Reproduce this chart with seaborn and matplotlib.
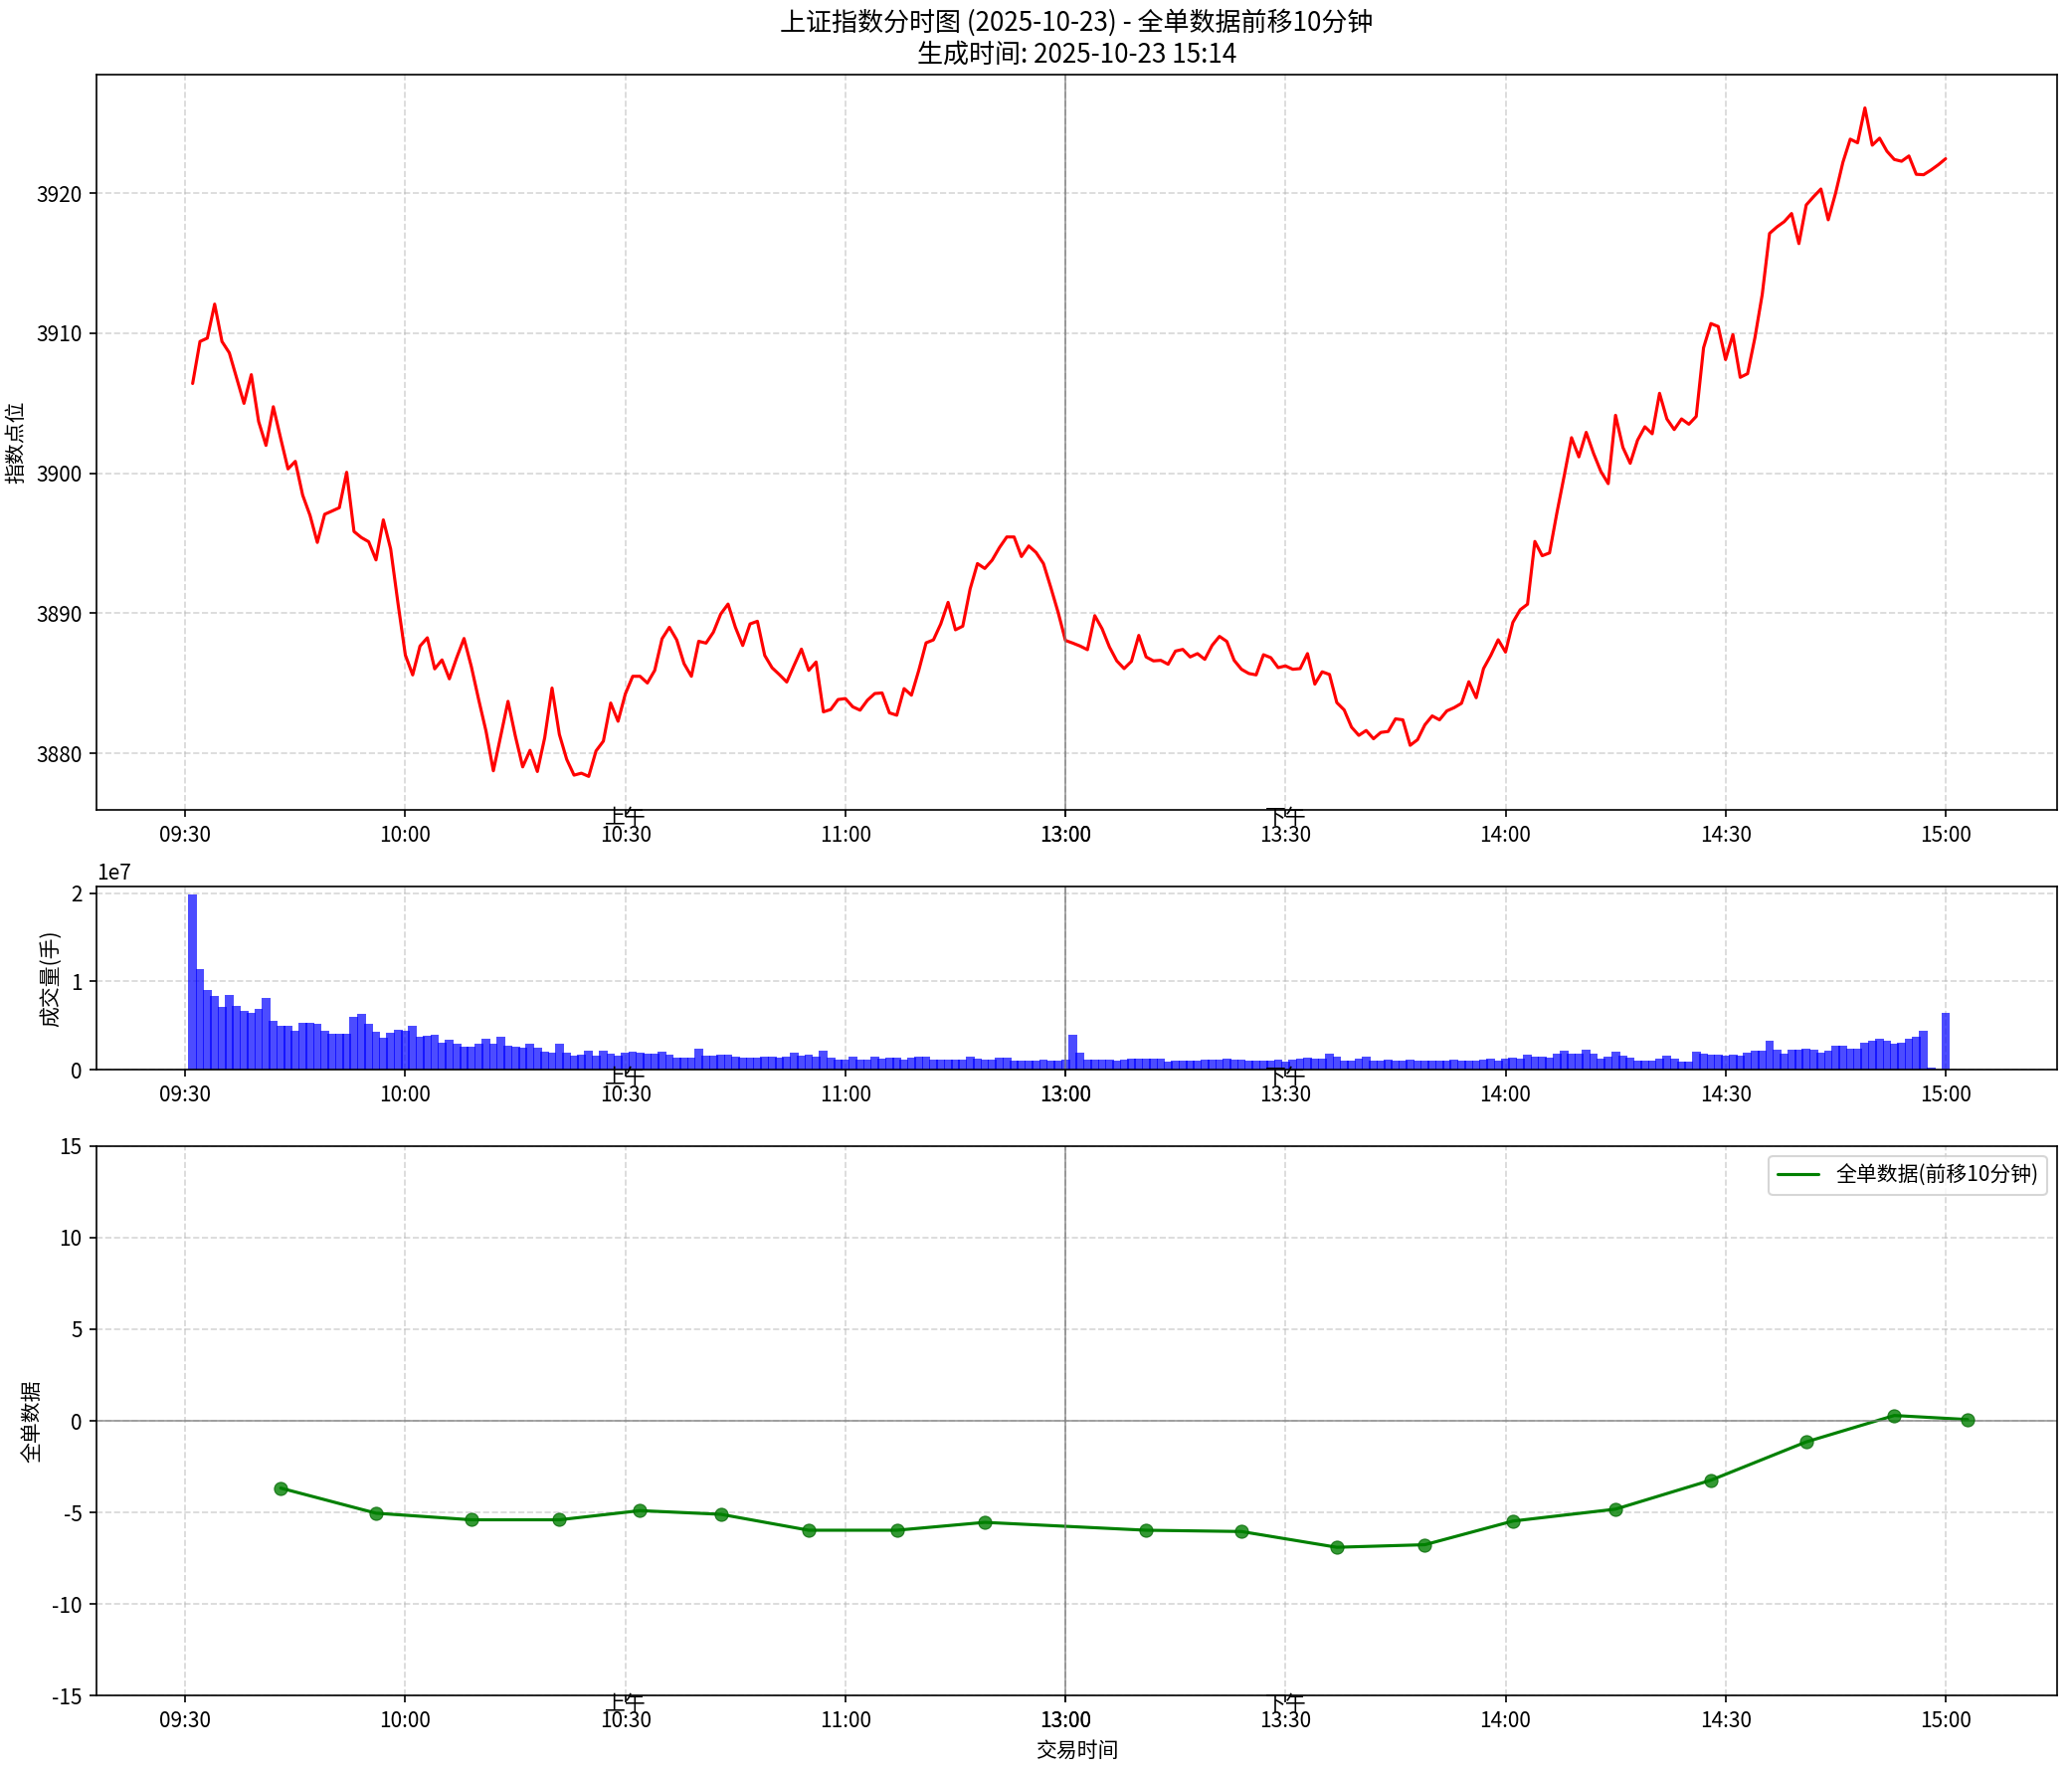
# -*- coding: utf-8 -*-

import numpy as np
import pandas as pd
import matplotlib
matplotlib.use('Agg')
import matplotlib.pyplot as plt
import seaborn as sns

# Minute positions on the compressed trading axis (09:30 -> 0, 11:30/13:00 -> 120, 15:00 -> 240)
minute_pos = list(range(1, 241))

# Index close per minute
price = [
    3906.41, 3909.41, 3909.65, 3912.08, 3909.41, 3908.60, 3906.80, 3904.99, 3907.04, 3903.69,
    3901.99, 3904.75, 3902.50, 3900.31, 3900.85, 3898.44, 3897.00, 3895.06, 3897.07, 3897.30,
    3897.54, 3900.07, 3895.84, 3895.41, 3895.11, 3893.81, 3896.67, 3894.59, 3890.70, 3887.02,
    3885.60, 3887.66, 3888.25, 3886.03, 3886.67, 3885.32, 3886.83, 3888.20, 3886.19, 3883.83,
    3881.58, 3878.75, 3881.23, 3883.71, 3881.23, 3879.03, 3880.21, 3878.70, 3881.11, 3884.66,
    3881.35, 3879.57, 3878.44, 3878.58, 3878.35, 3880.17, 3880.87, 3883.59, 3882.29, 3884.25,
    3885.50, 3885.50, 3885.02, 3885.92, 3888.18, 3889.00, 3888.10, 3886.40, 3885.50, 3888.00,
    3887.87, 3888.65, 3889.95, 3890.66, 3889.00, 3887.70, 3889.24, 3889.43, 3886.99, 3886.11,
    3885.62, 3885.09, 3886.28, 3887.44, 3885.92, 3886.52, 3882.96, 3883.13, 3883.84, 3883.91,
    3883.32, 3883.08, 3883.79, 3884.27, 3884.31, 3882.89, 3882.72, 3884.62, 3884.15, 3885.92,
    3887.89, 3888.10, 3889.24, 3890.78, 3888.82, 3889.08, 3891.73, 3893.55, 3893.20, 3893.79,
    3894.69, 3895.45, 3895.45, 3894.05, 3894.81, 3894.34, 3893.55, 3891.85, 3890.07, 3888.06,
    3887.87, 3887.66, 3887.40, 3889.83, 3888.89, 3887.59, 3886.60, 3886.05, 3886.57, 3888.42,
    3886.88, 3886.60, 3886.64, 3886.36, 3887.30, 3887.42, 3886.88, 3887.12, 3886.71, 3887.71,
    3888.35, 3887.99, 3886.64, 3886.00, 3885.70, 3885.60, 3887.04, 3886.83, 3886.12, 3886.24,
    3886.00, 3886.05, 3887.12, 3884.94, 3885.82, 3885.63, 3883.62, 3883.10, 3881.87, 3881.28,
    3881.63, 3881.04, 3881.49, 3881.56, 3882.46, 3882.39, 3880.57, 3880.97, 3882.03, 3882.67,
    3882.39, 3883.03, 3883.26, 3883.57, 3885.11, 3883.97, 3886.05, 3887.00, 3888.11, 3887.23,
    3889.35, 3890.25, 3890.65, 3895.13, 3894.11, 3894.31, 3897.16, 3899.82, 3902.54, 3901.17,
    3902.92, 3901.42, 3900.13, 3899.26, 3904.14, 3901.85, 3900.71, 3902.36, 3903.32, 3902.82,
    3905.71, 3903.88, 3903.12, 3903.88, 3903.50, 3904.06, 3908.96, 3910.69, 3910.48, 3908.12,
    3909.90, 3906.85, 3907.11, 3909.67, 3912.77, 3917.13, 3917.59, 3917.97, 3918.55, 3916.40,
    3919.16, 3919.75, 3920.30, 3918.10, 3920.00, 3922.21, 3923.86, 3923.60, 3926.09, 3923.43,
    3923.93, 3923.00, 3922.41, 3922.28, 3922.66, 3921.35, 3921.32, 3921.65, 3922.03, 3922.46,
]

# Volume per minute, in millions of lots (手)
volume_m = [
    19.8, 11.4, 9.06, 8.38, 7.09, 8.49, 7.25, 6.68, 6.45, 6.91,
    8.11, 5.55, 4.98, 4.98, 4.42, 5.32, 5.32, 5.17, 4.42, 4.11,
    4.04, 4.11, 5.96, 6.34, 5.21, 4.30, 3.66, 4.15, 4.49, 4.42,
    4.94, 3.74, 3.85, 3.92, 3.06, 3.40, 2.94, 2.60, 2.60, 2.94,
    3.51, 2.98, 3.74, 2.72, 2.60, 2.45, 2.90, 2.45, 2.04, 1.89,
    2.90, 1.89, 1.58, 1.70, 2.15, 1.62, 2.15, 1.77, 1.62, 1.92,
    2.04, 1.96, 1.81, 1.81, 2.04, 1.70, 1.40, 1.40, 1.40, 2.38,
    1.55, 1.55, 1.70, 1.70, 1.47, 1.36, 1.36, 1.36, 1.47, 1.47,
    1.40, 1.51, 1.89, 1.62, 1.70, 1.51, 2.15, 1.32, 1.13, 1.13,
    1.47, 1.13, 1.13, 1.47, 1.28, 1.36, 1.36, 1.13, 1.32, 1.47,
    1.47, 1.13, 1.13, 1.13, 1.13, 1.13, 1.47, 1.20, 1.13, 1.13,
    1.36, 1.36, 1.06, 1.06, 1.06, 1.06, 1.13, 1.06, 1.06, 1.13,
    3.96, 1.89, 1.13, 1.13, 1.13, 1.13, 1.06, 1.13, 1.20, 1.20,
    1.25, 1.25, 1.25, 0.87, 0.98, 1.06, 1.06, 1.06, 1.13, 1.13,
    1.13, 1.20, 1.13, 1.13, 1.06, 0.98, 1.06, 1.06, 1.13, 0.94,
    1.13, 1.25, 1.32, 1.28, 1.20, 1.77, 1.43, 1.06, 1.06, 1.20,
    1.43, 1.06, 1.06, 1.13, 1.06, 1.06, 1.13, 1.06, 1.06, 1.06,
    1.00, 1.06, 1.13, 1.06, 1.06, 0.98, 1.13, 1.20, 1.06, 1.25,
    1.32, 1.28, 1.70, 1.43, 1.43, 1.32, 1.77, 2.15, 1.77, 1.77,
    2.26, 1.77, 1.20, 1.43, 2.00, 1.58, 1.32, 1.06, 1.06, 1.06,
    1.25, 1.58, 1.20, 0.94, 0.91, 2.00, 1.77, 1.70, 1.70, 1.55,
    1.70, 1.55, 1.89, 2.15, 2.15, 3.28, 2.26, 1.77, 2.26, 2.26,
    2.34, 2.23, 1.96, 2.15, 2.72, 2.72, 2.38, 2.38, 3.09, 3.28,
    3.51, 3.28, 2.94, 3.09, 3.47, 3.74, 4.42, 0.19, 0.00, 6.45,
]

# Order-flow series (shifted 10 minutes earlier)
flow_pos = [13, 26, 39, 51, 62, 73, 85, 97, 109, 131,
            144, 157, 169, 181, 195, 208, 221, 233, 243]
flow_val = [-3.67, -5.04, -5.40, -5.40, -4.90, -5.10, -5.97, -5.97, -5.54, -5.97,
            -6.04, -6.90, -6.76, -5.47, -4.82, -3.24, -1.15, 0.29, 0.07]

tick_pos = [0, 30, 60, 90, 120, 120, 150, 180, 210, 240]
tick_labels = ['09:30', '10:00', '10:30', '11:00', '13:00', '13:00',
               '13:30', '14:00', '14:30', '15:00']
session_pos = [60, 150]
session_labels = ['上午', '下午']


def decorate_time_axis(ax):
    ax.set_xticks(tick_pos)
    ax.set_xticklabels(tick_labels)
    ax.axvline(120, color='gray', linewidth=0.8, alpha=0.8)
    ax.grid(True, linestyle='--', alpha=0.5, color='#b0b0b0')
    for pos, txt in zip(session_pos, session_labels):
        ax.annotate(txt, xy=(pos, 0), xycoords=('data', 'axes fraction'),
                    xytext=(0, -4), textcoords='offset points',
                    ha='center', va='center', fontsize=10)


def main():
    sns.set_style('ticks')
    plt.rcParams['font.family'] = ['Noto Sans CJK SC', 'DejaVu Sans']
    plt.rcParams['axes.unicode_minus'] = False
    plt.rcParams['axes.edgecolor'] = 'black'
    plt.rcParams['text.color'] = 'black'
    plt.rcParams['xtick.color'] = 'black'
    plt.rcParams['ytick.color'] = 'black'
    plt.rcParams['axes.labelcolor'] = 'black'

    df_min = pd.DataFrame({
        'pos': minute_pos,
        'price': price,
        'volume': np.array(volume_m) * 1e6,
    })
    df_flow = pd.DataFrame({'pos': flow_pos, 'flow': flow_val})

    fig = plt.figure(figsize=(2083 / 150, 1783 / 150), dpi=150)
    left, width = 0.0466, 0.9462
    ax1 = fig.add_axes([left, 0.5435, width, 0.4145])
    ax2 = fig.add_axes([left, 0.3970, width, 0.1035], sharex=ax1)
    ax3 = fig.add_axes([left, 0.0441, width, 0.3100], sharex=ax1)

    # Price line
    sns.lineplot(data=df_min, x='pos', y='price', ax=ax1,
                 color='red', linewidth=1.5)
    ax1.set_ylabel('指数点位', fontsize=10)
    ax1.set_xlabel('')
    ax1.set_title('上证指数分时图 (2025-10-23) - 全单数据前移10分钟\n'
                  '生成时间: 2025-10-23 15:14', fontsize=12.5)

    # Volume bars (no white patch edges from the seaborn style)
    ax2.bar(df_min['pos'], df_min['volume'], width=1.2,
            color='blue', alpha=0.7, edgecolor='none', linewidth=0)
    ax2.set_ylabel('成交量(手)', fontsize=10)
    ax2.set_xlabel('')

    # Order-flow line
    sns.lineplot(data=df_flow, x='pos', y='flow', ax=ax3, color='green',
                 linewidth=1.5, label='全单数据(前移10分钟)')
    sns.scatterplot(data=df_flow, x='pos', y='flow', ax=ax3, color='green',
                    edgecolor='darkgreen', s=40, alpha=0.8, zorder=3,
                    legend=False)
    ax3.axhline(0, color='gray', linewidth=0.8, alpha=0.8)
    ax3.set_ylim(-15, 15)
    ax3.set_yticks([-15, -10, -5, 0, 5, 10, 15])
    ax3.set_ylabel('全单数据', fontsize=10)
    ax3.set_xlabel('交易时间', fontsize=10)
    ax3.legend(loc='upper right', fontsize=10)

    for ax in (ax1, ax2, ax3):
        decorate_time_axis(ax)
    ax1.set_xlim(-12.1, 255.2)

    plt.savefig('out.png', dpi=150)
    plt.close()


if __name__ == '__main__':
    main()
